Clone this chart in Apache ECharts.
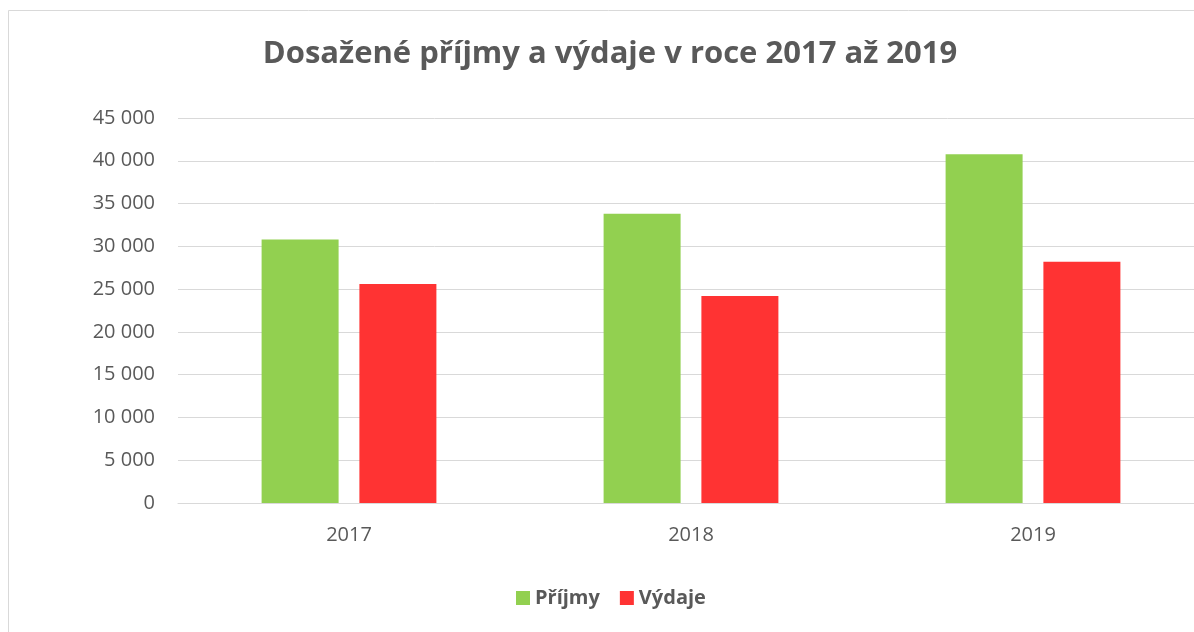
<!DOCTYPE html>
<html>
<head>
<meta charset="utf-8">
<script src="https://cdn.jsdelivr.net/npm/echarts@6/dist/echarts.min.js"></script>
<style>
html,body{margin:0;padding:0;background:#fff;overflow:hidden;}
#c{width:1214px;height:632px;}
</style>
</head>
<body>
<div id="c"></div>
<script>
var categories = ['2017', '2018', '2019'];
var prijmy = [30800, 33800, 40750];
var vydaje = [25600, 24200, 28200];
var seriesNames = ['Příjmy', 'Výdaje'];
var titleText = 'Dosažené příjmy a výdaje v roce 2017 až 2019';

function fmt(v) {
  return String(v).replace(/\B(?=(\d{3})+(?!\d))/g, ' ');
}

var chart = echarts.init(document.getElementById('c'), null, {renderer: 'canvas'});
var font = '"Open Sans", "Noto Sans", sans-serif';
chart.setOption({
  animation: false,
  backgroundColor: '#fff',
  graphic: [{
    type: 'rect',
    shape: {x: 8.5, y: 10.5, width: 1200, height: 640},
    style: {fill: 'none', stroke: '#d9d9d9', lineWidth: 1},
    silent: true
  }],
  title: {
    text: titleText,
    left: 605,
    textAlign: 'center',
    top: 34,
    textStyle: {fontFamily: font, fontWeight: 'bold', fontSize: 31, color: '#595959'}
  },
  legend: {
    data: seriesNames,
    left: 516,
    top: 588,
    padding: 0,
    itemWidth: 14,
    itemHeight: 14,
    itemGap: 20,
    icon: 'rect',
    textStyle: {fontFamily: font, fontWeight: 'bold', fontSize: 20, color: '#595959'}
  },
  grid: {left: 178, top: 118, width: 1026, height: 385, containLabel: false},
  xAxis: {
    type: 'category',
    data: categories,
    axisLine: {show: true, lineStyle: {color: '#d9d9d9'}},
    axisTick: {show: false},
    axisLabel: {fontFamily: font, fontSize: 20, color: '#595959', margin: 22}
  },
  yAxis: {
    type: 'value',
    min: 0, max: 45000, interval: 5000,
    axisLine: {show: false},
    axisTick: {show: false},
    splitLine: {lineStyle: {color: '#d9d9d9', width: 1}},
    axisLabel: {fontFamily: font, fontSize: 20, color: '#595959', margin: 23, formatter: fmt}
  },
  series: [
    {name: seriesNames[0], type: 'bar', data: prijmy, barWidth: 77, barGap: '27%', itemStyle: {color: '#92D050'}},
    {name: seriesNames[1], type: 'bar', data: vydaje, barWidth: 77, barGap: '27%', itemStyle: {color: '#FF3333'}}
  ]
});
</script>
</body>
</html>
